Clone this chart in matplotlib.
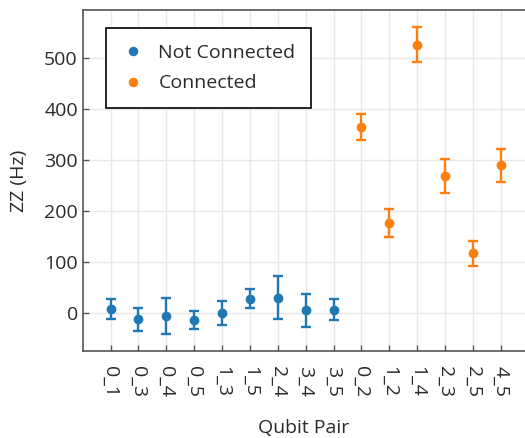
import matplotlib.pyplot as plt

plt.rcParams['font.family'] = ['Open Sans', 'DejaVu Sans']

pairs_nc = ['0_1', '0_3', '0_4', '0_5', '1_3', '1_5', '2_4', '3_4', '3_5']
zz_nc = [7, -13, -6, -14, 0, 28, 30, 5, 6]
err_nc = [20, 22, 35, 17, 23, 19, 43, 32, 21]

pairs_c = ['0_2', '1_2', '1_4', '2_3', '2_5', '4_5']
zz_c = [365, 177, 527, 269, 117, 290]
err_c = [26, 28, 34, 33, 25, 32]

labels = pairs_nc + pairs_c
x_nc = list(range(len(pairs_nc)))
x_c = list(range(len(pairs_nc), len(labels)))

txt = '#2a2a2a'
fig = plt.figure(figsize=(5.25, 4.38), dpi=100)
ax = fig.add_axes([0.1575, 0.1986, 0.8425, 0.7785])

ax.errorbar(x_nc, zz_nc, yerr=err_nc, fmt='o', color='#1f77b4', ms=6,
            elinewidth=1.7, capsize=3.5, capthick=1.7, zorder=3)
ax.errorbar(x_c, zz_c, yerr=err_c, fmt='o', color='#ff7f0e', ms=6,
            elinewidth=1.7, capsize=3.5, capthick=1.7, zorder=3)
# marker-only handles for the legend
ax.plot([], [], 'o', color='#1f77b4', ms=5.8, label='Not Connected')
ax.plot([], [], 'o', color='#ff7f0e', ms=5.8, label='Connected')

ax.set_xlim(-1, 14.87)
ax.set_ylim(-75, 595)
ax.set_xticks(range(len(labels)))
ax.set_xticklabels(labels, rotation=-90)
ax.set_yticks([0, 100, 200, 300, 400, 500])

ax.grid(True, color='#e8e8e8', lw=1)
ax.set_axisbelow(True)
for side in ['left', 'bottom', 'top']:
    ax.spines[side].set_color('#555555')
    ax.spines[side].set_linewidth(1.2)
ax.spines['right'].set_visible(False)
ax.tick_params(direction='in', length=4.3, width=1, color='#555555',
               labelsize=14, labelcolor=txt, right=False, top=False)
ax.tick_params(axis='y', pad=3.5)
ax.tick_params(axis='x', pad=11)

ax.set_ylabel('ZZ (Hz)', fontsize=14, color=txt, labelpad=11.5)
ax.set_xlabel('Qubit Pair', fontsize=14, color=txt, labelpad=15.5)

leg = ax.legend(loc='upper left', bbox_to_anchor=(0.0527, 0.947), fontsize=14,
                frameon=True, fancybox=False, borderaxespad=0, borderpad=0.8,
                handlelength=1.13, handletextpad=0.77, labelspacing=0.66)
leg.get_frame().set_edgecolor('black')
leg.get_frame().set_linewidth(1.2)
leg.get_frame().set_alpha(1)
for t in leg.get_texts():
    t.set_color(txt)

fig.savefig('out.png', dpi=100, facecolor='white')
